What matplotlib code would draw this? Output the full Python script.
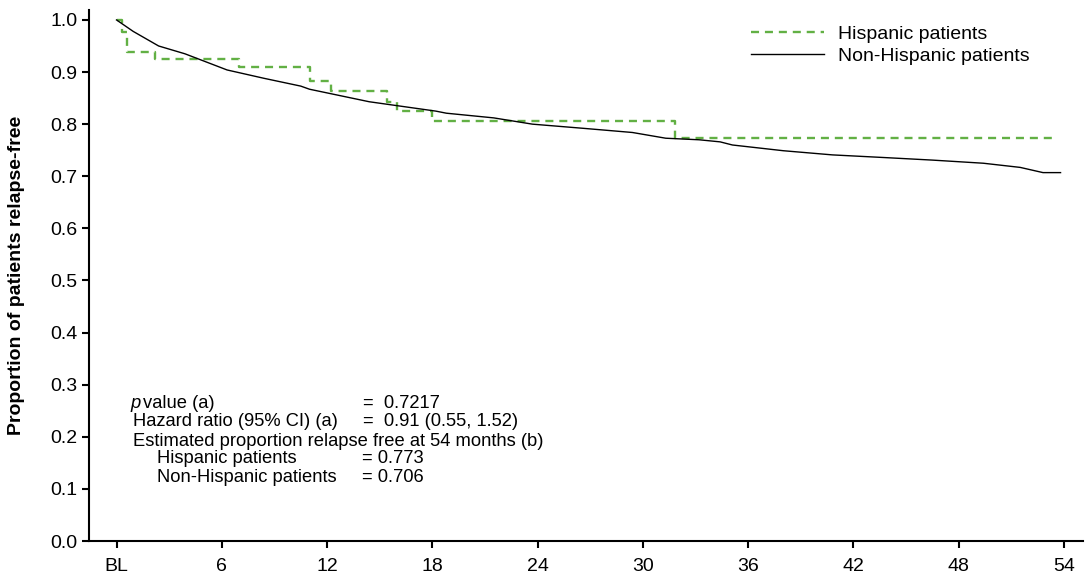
import matplotlib
matplotlib.use("Agg")
import matplotlib.pyplot as plt

plt.rcParams['font.family'] = ['Liberation Sans', 'DejaVu Sans']

# Hispanic patients (step function, months / proportion)
hisp_months = [0, 0.3, 0.6, 2.2, 7.0, 11.0, 12.2, 15.4, 16.0, 18.0, 31.8, 53.5]
hisp_prop = [1.0, 0.977, 0.938, 0.925, 0.910, 0.882, 0.864, 0.843, 0.825, 0.806, 0.773, 0.773]

# Non-Hispanic patients
nonhisp_months = [0, 0.95, 2.4, 3.9, 6.3, 8.4, 10.5, 11.0, 14.4, 18.2, 18.8, 21.5, 23.7,
                  26.6, 29.4, 31.3, 33.2, 34.4, 35.1, 38.0, 40.8, 43.7, 46.5, 49.4,
                  51.5, 52.8, 53.8]
nonhisp_prop = [1.0, 0.978, 0.950, 0.935, 0.904, 0.888, 0.873, 0.867, 0.843, 0.825, 0.821,
                0.812, 0.800, 0.792, 0.784, 0.773, 0.770, 0.766, 0.760, 0.749, 0.741,
                0.736, 0.731, 0.725, 0.717, 0.707, 0.707]

x_ticks = [0, 6, 12, 18, 24, 30, 36, 42, 48, 54]
x_labels = ['BL', '6', '12', '18', '24', '30', '36', '42', '48', '54']
y_ticks = [i / 10 for i in range(11)]

green = '#62b044'

fig = plt.figure(figsize=(10.85, 5.73), dpi=100)
ax = fig.add_axes([0.082, 0.0558, 0.916, 0.9267])

ax.step(hisp_months, hisp_prop, where='post', color=green, lw=1.7,
        dashes=(3.4, 2.5), label='Hispanic patients')
ax.plot(nonhisp_months, nonhisp_prop, color='black', lw=1.0,
        label='Non-Hispanic patients')

ax.set_xlim(-1.57, 55.07)
ax.set_ylim(0, 1.019)
ax.set_xticks(x_ticks)
ax.set_xticklabels(x_labels)
ax.set_yticks(y_ticks)
ax.set_yticklabels([f'{v:.1f}' for v in y_ticks])
ax.tick_params(direction='out', length=5, width=1.5, labelsize=14, colors='black')
ax.tick_params(axis='x', pad=7)
for s in ['top', 'right']:
    ax.spines[s].set_visible(False)
for s in ['left', 'bottom']:
    ax.spines[s].set_linewidth(1.5)

ax.set_ylabel('Proportion of patients relapse-free', fontsize=14, fontweight='bold')
ax.yaxis.set_label_coords(-0.0644, 0.5)

ax.legend(loc='upper left', bbox_to_anchor=(0.662, 0.979), frameon=False,
          fontsize=14, handlelength=3.75, handletextpad=0.75, labelspacing=0.25,
          borderaxespad=0, borderpad=0.2)

fs = 13.2
tr = ax.transAxes
ax.text(0.042, 0.259, 'p', style='italic', fontsize=fs, va='center', transform=tr)
ax.text(0.0545, 0.259, 'value (a)', fontsize=fs, va='center', transform=tr)
ax.text(0.276, 0.259, '=  0.7217', fontsize=fs, va='center', transform=tr)
ax.text(0.044, 0.225, 'Hazard ratio (95% CI) (a)', fontsize=fs, va='center', transform=tr)
ax.text(0.276, 0.225, '=  0.91 (0.55, 1.52)', fontsize=fs, va='center', transform=tr)
ax.text(0.044, 0.188, 'Estimated proportion relapse free at 54 months (b)', fontsize=fs,
        va='center', transform=tr)
ax.text(0.068, 0.156, 'Hispanic patients', fontsize=fs, va='center', transform=tr)
ax.text(0.275, 0.156, '= 0.773', fontsize=fs, va='center', transform=tr)
ax.text(0.068, 0.12, 'Non-Hispanic patients', fontsize=fs, va='center', transform=tr)
ax.text(0.275, 0.12, '= 0.706', fontsize=fs, va='center', transform=tr)

fig.savefig('out.png', dpi=100)
